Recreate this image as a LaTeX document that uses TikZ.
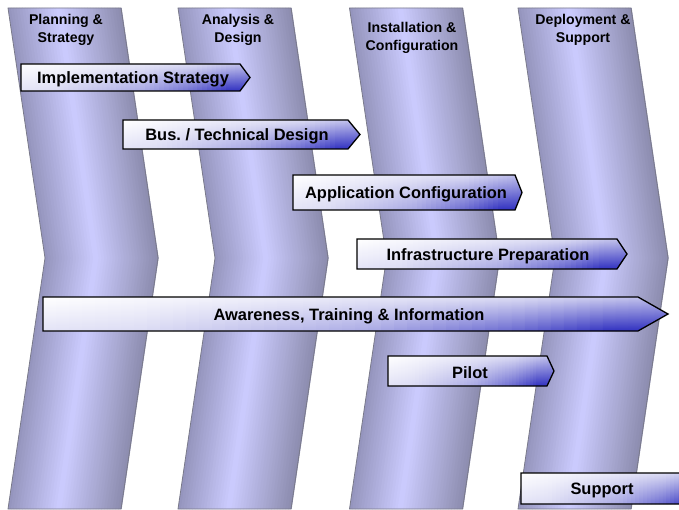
\documentclass[tikz,border=0pt]{standalone}
\usepackage{fontspec}
\setmainfont{Liberation Sans}
\frenchspacing
\definecolor{colL}{HTML}{9494BC}
\definecolor{colM}{HTML}{CCCCFF}
\definecolor{colR}{HTML}{8C8CAE}
\definecolor{stopA}{HTML}{FFFFFF}
\definecolor{stopB}{HTML}{DCDCF4}
\definecolor{stopC}{HTML}{A8A8E4}
\definecolor{stopD}{HTML}{6868D0}
\definecolor{stopE}{HTML}{3030C0}
\definecolor{coledge}{HTML}{7A7A8A}
\tikzset{
  headertext/.style={font=\fontsize{14.2}{17.5}\selectfont\bfseries, align=center, inner sep=0pt},
  arrowtext/.style={font=\fontsize{16.5}{19}\selectfont\bfseries, inner sep=0pt},
  arrowline/.style={draw=black, line width=1.3bp},
  coloutline/.style={draw=coledge, line width=0.8bp}
}
% colour of the arrow gradient at parameter s in [0,1]
\newcommand\colat[2]{%
  \pgfmathsetmacro\sv{min(max(#1,0),1)}%
  \ifdim\sv pt<0.5pt
    \pgfmathsetmacro\pp{100*\sv/0.5}\colorlet{#2}{stopB!\pp!stopA}%
  \else\ifdim\sv pt<0.75pt
    \pgfmathsetmacro\pp{100*(\sv-0.5)/0.25}\colorlet{#2}{stopC!\pp!stopB}%
  \else\ifdim\sv pt<0.9pt
    \pgfmathsetmacro\pp{100*(\sv-0.75)/0.15}\colorlet{#2}{stopD!\pp!stopC}%
  \else
    \pgfmathsetmacro\pp{100*(\sv-0.9)/0.1}\colorlet{#2}{stopE!\pp!stopD}%
  \fi\fi\fi}
% #1 left x, #2 body end x, #3 tip x, #4 top y, #5 bottom y
\newcommand\phasearrow[5]{%
  \begin{scope}
    \clip (#1,#4) -- (#2,#4) -- (#3,{(#4+#5)/2}) -- (#2,#5) -- (#1,#5) -- cycle;
    \pgfmathsetmacro\stw{(#3-#1)/48}
    \foreach \i in {0,...,47}{
      \pgfmathsetmacro\u{(\i+0.5)/48}
      \colat{0.66*\u}{ctop}
      \colat{0.66*\u+0.4}{cbot}
      \pgfmathsetmacro\xa{#1+\stw*\i}
      \pgfmathsetmacro\xb{#1+\stw*(\i+1)+0.6}
      \shade[top color=ctop, bottom color=cbot] (\xa,#4) rectangle (\xb,#5);
    }
  \end{scope}
  \path[arrowline] (#1,#4) -- (#2,#4) -- (#3,{(#4+#5)/2}) -- (#2,#5) -- (#1,#5) -- cycle;}
\begin{document}
\begin{tikzpicture}[x=1bp,y=-1bp]
\useasboundingbox (0,0) rectangle (679,510);
\clip (0,0) rectangle (679,510);
% columns (chevrons) with gradient following the slant
\foreach \x in {8,178,349.5,518}{
  \foreach \i in {0,...,39}{
    \pgfmathsetmacro\ta{\i/40}
    \pgfmathsetmacro\tb{(\i+1)/40+0.006}
    \pgfmathsetmacro\tc{(\i+0.5)/40}
    \ifdim\tc pt<0.45pt
      \pgfmathsetmacro\p{100*\tc/0.45}\edef\sc{colM!\p!colL}
    \else
      \pgfmathsetmacro\p{100*(1-(\tc-0.45)/0.55)}\edef\sc{colM!\p!colR}
    \fi
    \fill[\sc] (\x+113*\ta,8) -- (\x+113*\tb,8) -- (\x+113*\tb+37,258) -- (\x+113*\tb,509)
      -- (\x+113*\ta,509) -- (\x+113*\ta+37,258) -- cycle;
  }
  \path[coloutline] (\x,8) -- (\x+113,8) -- (\x+150,258) -- (\x+113,509) -- (\x,509) -- (\x+37,258) -- cycle;
}
% headers
\node[headertext] (h1) at (66,30) {Planning \&\\Strategy};
\node[headertext] (h2) at (238,30) {Analysis \&\\Design};
\node[headertext] (h3) at (412,38) {Installation \&\\Configuration};
\node[headertext] (h4) at (583,30) {Deployment \&\\Support};
% activity arrows
\phasearrow{21}{240}{250}{64}{91}
\node[arrowtext] (a1) at (133,79.5) {Implementation Strategy};
\phasearrow{123}{348}{360}{120}{149}
\node[arrowtext] (a2) at (237,136.5) {Bus. / Technical Design};
\phasearrow{293}{515}{522}{175}{210}
\node[arrowtext] (a3) at (406,194.5) {Application Configuration};
\phasearrow{357}{617}{627}{239}{269}
\node[arrowtext] (a4) at (488,256) {Infrastructure Preparation};
\phasearrow{43}{638}{668}{297}{331}
\node[arrowtext] (a5) at (349,316) {Awareness, Training \& Information};
\phasearrow{388}{547}{554}{356}{386}
\node[arrowtext] (a6) at (470,373) {Pilot};
\phasearrow{521}{700}{710}{473}{504}
\node[arrowtext] (a7) at (602,490.5) {Support};
\end{tikzpicture}
\end{document}
